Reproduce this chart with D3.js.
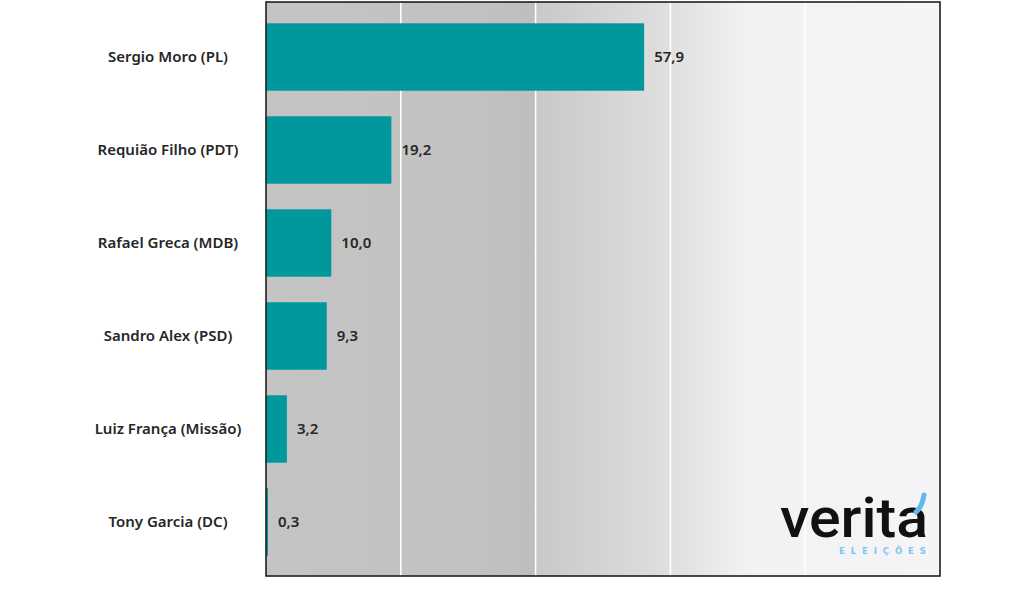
<!DOCTYPE html>
<html>
<head>
<meta charset="utf-8">
<script src="https://cdn.jsdelivr.net/npm/d3@7"></script>
<style>
  body { margin: 0; background: #ffffff; }
  svg { display: block; }
</style>
</head>
<body>
<div id="chart"></div>
<script>
// candidates, top to bottom
var candidates = [
  'Sergio Moro (PL)',
  'Requião Filho (PDT)',
  'Rafael Greca (MDB)',
  'Sandro Alex (PSD)',
  'Luiz França (Missão)',
  'Tony Garcia (DC)'
]
// vote intention, %
var values = [57.9, 19.2, 10.0, 9.3, 3.2, 0.3]
// axis is split into 5 equal parts
var axisMax = 103.2
var gridCount = 5

var fullWidth = 1024
var fullHeight = 596
var plot = { left: 266, right: 940, top: 2, bottom: 576 }

var svg = d3
  .select('#chart')
  .append('svg')
  .attr('width', fullWidth)
  .attr('height', fullHeight)

var data = candidates.map((d, i) => ({ name: d, value: values[i] }))

var xScale = d3.scaleLinear().domain([0, axisMax]).range([plot.left, plot.right])
var yScale = d3
  .scaleBand()
  .domain(candidates)
  .range([10.5, 568.5])
  .paddingInner(0.275)
  .paddingOuter(0.1375)

var ptBR = d3.formatLocale({ decimal: ',', thousands: '.', grouping: [3], currency: ['R$', ''] })
var fmt = ptBR.format('.1f')

// background gradient, gray on the left fading to white
var defs = svg.append('defs')
var grad = defs
  .append('linearGradient')
  .attr('id', 'bg')
  .attr('x1', '0%')
  .attr('x2', '100%')
  .attr('y1', '0%')
  .attr('y2', '0%')
var stops = [
  [0, '#c4c4c4'],
  [0.3, '#c2c2c2'],
  [0.4, '#bebebe'],
  [0.402, '#c9c9c9'],
  [0.6, '#dfdfdf'],
  [0.71, '#f2f2f3'],
  [1, '#f5f5f7']
]
stops.forEach(s => {
  grad.append('stop').attr('offset', s[0]).attr('stop-color', s[1])
})

svg
  .append('rect')
  .attr('x', plot.left)
  .attr('y', plot.top)
  .attr('width', plot.right - plot.left)
  .attr('height', plot.bottom - plot.top)
  .attr('fill', 'url(#bg)')

// white gridlines
var gridTicks = d3.range(1, gridCount).map(i => (axisMax * i) / gridCount)
svg
  .append('g')
  .attr('class', 'grid')
  .selectAll('line')
  .data(gridTicks)
  .enter()
  .append('line')
  .attr('x1', d => xScale(d))
  .attr('x2', d => xScale(d))
  .attr('y1', plot.top)
  .attr('y2', plot.bottom)
  .attr('stroke', '#ffffff')
  .attr('stroke-width', 1.6)

// bars
svg
  .append('g')
  .attr('class', 'bars')
  .selectAll('rect')
  .data(data)
  .enter()
  .append('rect')
  .attr('x', xScale(0))
  .attr('y', d => yScale(d.name))
  .attr('width', d => xScale(d.value) - xScale(0))
  .attr('height', yScale.bandwidth())
  .attr('fill', '#00979d')

// value labels
svg
  .append('g')
  .attr('class', 'values')
  .selectAll('text')
  .data(data)
  .enter()
  .append('text')
  .attr('x', d => xScale(d.value) + 10)
  .attr('y', d => yScale(d.name) + yScale.bandwidth() / 2)
  .attr('dy', '0.35em')
  .text(d => fmt(d.value))
  .attr('font-family', 'Noto Sans, sans-serif')
  .attr('font-size', 15)
  .attr('font-weight', 600)
  .attr('fill', '#262626')

// category labels, centred in the left margin
svg
  .append('g')
  .attr('class', 'names')
  .selectAll('text')
  .data(data)
  .enter()
  .append('text')
  .attr('x', 168)
  .attr('y', d => yScale(d.name) + yScale.bandwidth() / 2)
  .attr('dy', '0.35em')
  .attr('text-anchor', 'middle')
  .text(d => d.name)
  .attr('font-family', 'Noto Sans, sans-serif')
  .attr('font-size', 15)
  .attr('font-weight', 600)
  .attr('fill', '#262626')

// plot frame
svg
  .append('rect')
  .attr('x', plot.left)
  .attr('y', plot.top)
  .attr('width', plot.right - plot.left)
  .attr('height', plot.bottom - plot.top)
  .attr('fill', 'none')
  .attr('stroke', '#1e1e1e')
  .attr('stroke-width', 1.6)

// logo
var logo = svg.append('g').attr('class', 'logo')
var word = logo
  .append('text')
  .attr('x', 780)
  .attr('y', 537)
  .text('verita')
  .attr('font-family', 'Roboto, sans-serif')
  .attr('font-size', 56)
  .attr('font-weight', 500)
  .attr('textLength', 148)
  .attr('lengthAdjust', 'spacingAndGlyphs')
  .attr('fill', '#111111')
var bb = word.node().getBBox()
// blue accent over the last letter
logo
  .append('path')
  .attr('d', `M${bb.x + bb.width - 4},${bb.y + 10} Q${bb.x + bb.width - 6},${bb.y + 22} ${bb.x + bb.width - 12},${bb.y + 27}`)
  .attr('fill', 'none')
  .attr('stroke', '#5fbbe9')
  .attr('stroke-width', 5)
  .attr('stroke-linecap', 'round')
logo
  .append('text')
  .attr('x', 839)
  .attr('y', 554)
  .text('ELEIÇÕES')
  .attr('font-family', 'DejaVu Sans, sans-serif')
  .attr('font-size', 8.5)
  .attr('font-weight', 'bold')
  .attr('letter-spacing', 5.9)
  .attr('fill', '#7ec6ee')
</script>
</body>
</html>
